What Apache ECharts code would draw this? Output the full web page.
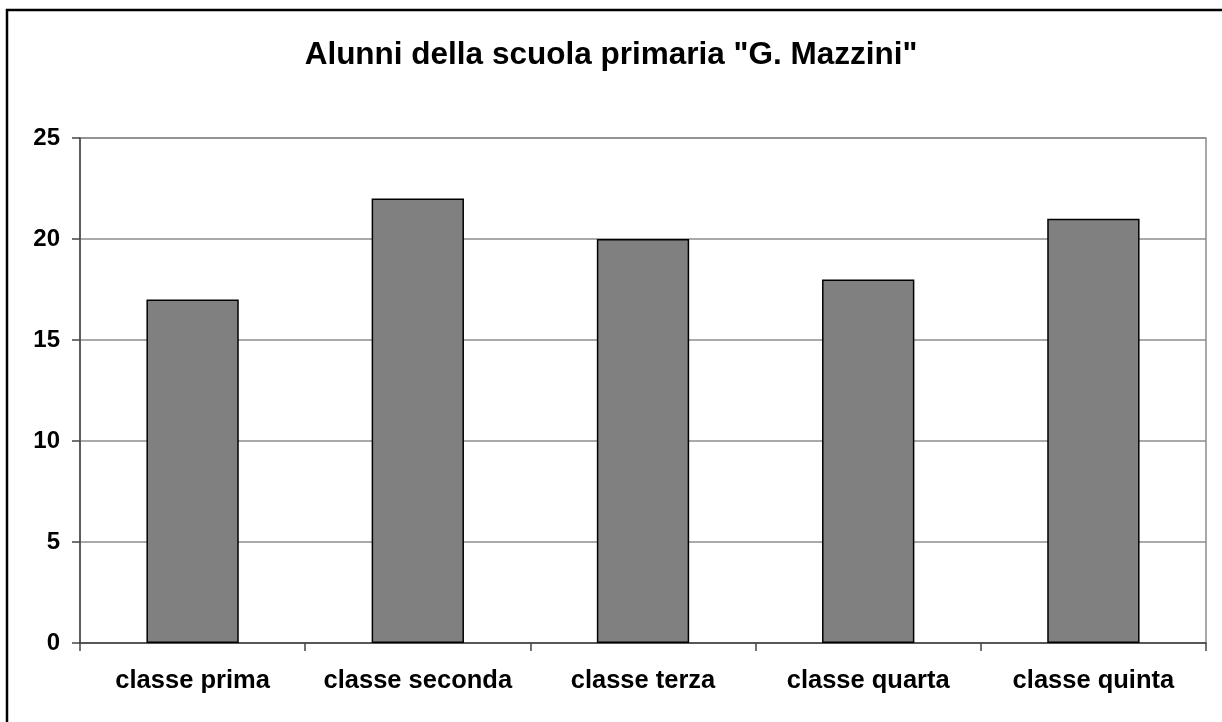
<!DOCTYPE html>
<html>
<head>
<meta charset="utf-8">
<script src="https://cdn.jsdelivr.net/npm/echarts@6/dist/echarts.min.js"></script>
<style>
html,body{margin:0;padding:0;background:#fff;}
#chart{width:1222px;height:722px;}
</style>
</head>
<body>
<div id="chart"></div>
<script>
const titleText = 'Alunni della scuola primaria "G. Mazzini"';
const categories = ['classe prima', 'classe seconda', 'classe terza', 'classe quarta', 'classe quinta'];
const values = [17, 22, 20, 18, 21];
const yTicks = { min: 0, max: 25, interval: 5 };

const FONT = '"Liberation Sans", Arial, sans-serif';
const chart = echarts.init(document.getElementById('chart'), null, { renderer: 'canvas' });
chart.setOption({
  backgroundColor: '#ffffff',
  animation: false,
  title: {
    text: titleText,
    left: 'center',
    top: 34,
    textStyle: { fontFamily: FONT, fontWeight: 'bold', fontSize: 31.5, color: '#000' }
  },
  graphic: [{
    type: 'rect',
    shape: { x: 7, y: 10, width: 1300, height: 800 },
    style: { fill: 'none', stroke: '#000', lineWidth: 2.5 },
    silent: true,
    z: 100
  }],
  grid: {
    left: 80, right: 16, top: 138, bottom: 79,
    show: true, borderColor: '#8c8c8c', borderWidth: 1.5, backgroundColor: 'transparent'
  },
  xAxis: {
    type: 'category',
    data: categories,
    boundaryGap: true,
    axisLine: { show: true, lineStyle: { color: '#444', width: 1.5 } },
    axisTick: { show: true, interval: 0, alignWithLabel: false, length: 8, lineStyle: { color: '#444', width: 1.5 } },
    axisLabel: { interval: 0, fontFamily: FONT, fontWeight: 'bold', fontSize: 25.5, color: '#000', margin: 25 },
    splitLine: { show: false }
  },
  yAxis: {
    type: 'value',
    min: yTicks.min, max: yTicks.max, interval: yTicks.interval,
    axisLine: { show: true, lineStyle: { color: '#444', width: 1.5 } },
    axisTick: { show: true, length: 8, lineStyle: { color: '#444', width: 1.5 } },
    axisLabel: { fontFamily: FONT, fontWeight: 'bold', fontSize: 24, color: '#000', margin: 20 },
    splitLine: { show: true, lineStyle: { color: '#8c8c8c', width: 1.5 } }
  },
  series: [{
    type: 'bar',
    data: values,
    barWidth: '41%',
    itemStyle: { color: '#808080', borderColor: '#000', borderWidth: 1.5 },
    z: 3
  }]
});
</script>
</body>
</html>
